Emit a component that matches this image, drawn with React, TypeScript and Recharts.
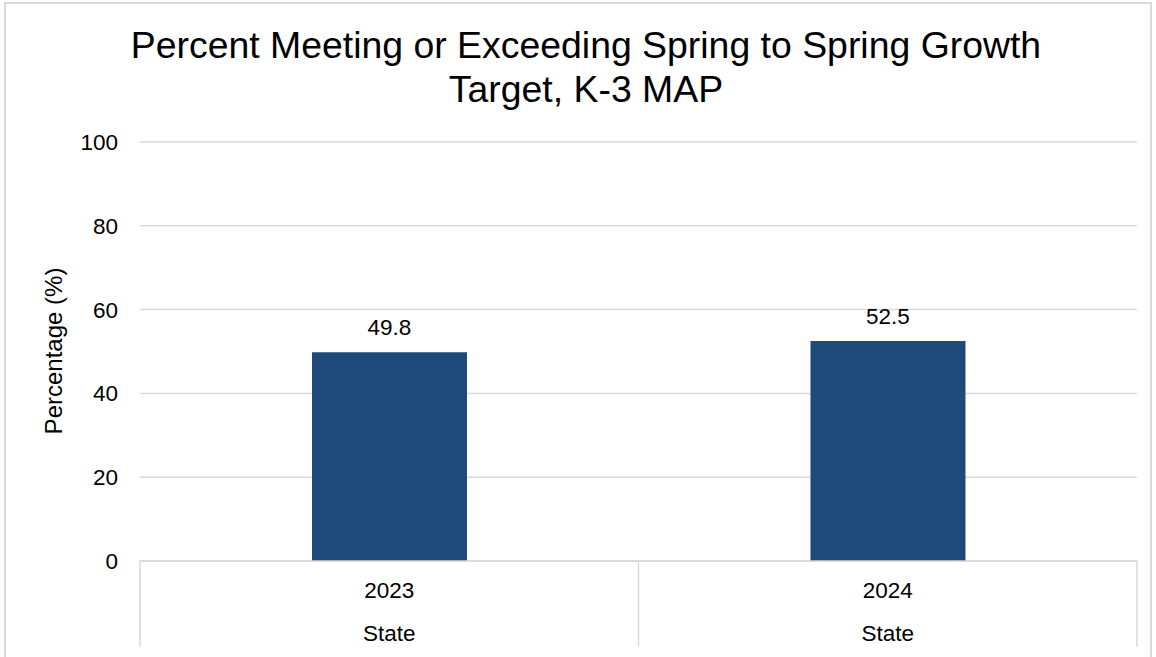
import React from "react";
import { BarChart, Bar, XAxis, YAxis, CartesianGrid, LabelList } from "recharts";

const years = ["2023", "2024"];
const groups = ["State", "State"];
const values = [49.8, 52.5];
const yTicks = [0, 20, 40, 60, 80, 100];
const titleLines = ["Percent Meeting or Exceeding Spring to Spring Growth", "Target, K-3 MAP"];
const yLabel = "Percentage (%)";

const data = years.map((y, i) => ({ year: y, group: groups[i], value: values[i] }));

const W = 1156;
const H = 657;
const X_AXIS_H = 30;
const MARGIN = { top: 142, right: 19, bottom: 96 - X_AXIS_H, left: 0 };
const Y_AXIS_W = 140;
const PLOT_W = W - MARGIN.left - MARGIN.right - Y_AXIS_W;
const BAND = PLOT_W / data.length;
const FONT = "'Liberation Sans', Arial, sans-serif";
const GRID = "#d9d9d9";
const BAR = "#1F4A7C";

const XTick = (props: any) => {
  const { x, y, payload, index } = props;
  const d = data[index] || data.find((e) => e.year === payload.value);
  const left = x - BAND / 2;
  const right = x + BAND / 2;
  return (
    <g>
      <line x1={left} y1={y} x2={left} y2={y + 86} stroke={GRID} strokeWidth={1.5} />
      {index === data.length - 1 && (
        <line x1={right} y1={y} x2={right} y2={y + 86} stroke={GRID} strokeWidth={1.5} />
      )}
      <text x={x} y={y + 37} textAnchor="middle" fontSize={22.5} fontFamily={FONT} fill="#000">
        {payload.value}
      </text>
      <text x={x} y={y + 80} textAnchor="middle" fontSize={22.5} fontFamily={FONT} fill="#000">
        {d ? d.group : ""}
      </text>
    </g>
  );
};

export default function App() {
  return (
    <div style={{ position: "absolute", left: 0, top: 0, width: W, height: H, background: "#fff", overflow: "hidden" }}>
      <BarChart width={W} height={H} data={data} margin={MARGIN} barCategoryGap="34.5%">
        <CartesianGrid vertical={false} stroke={GRID} strokeWidth={1.5} />
        <XAxis
          dataKey="year"
          height={X_AXIS_H}
          tickLine={false}
          axisLine={{ stroke: GRID, strokeWidth: 1.5 }}
          tickSize={0}
          tickMargin={0}
          interval={0}
          tick={<XTick />}
        />
        <YAxis
          width={Y_AXIS_W}
          domain={[0, 100]}
          ticks={yTicks}
          axisLine={false}
          tickLine={false}
          tickSize={0}
          tickMargin={22}
          tick={{ fontSize: 22.5, fontFamily: FONT, fill: "#000" }}
        />
        <Bar dataKey="value" fill={BAR} isAnimationActive={false}>
          <LabelList dataKey="value" position="top" offset={17} style={{ fontSize: 22.5, fontFamily: FONT, fill: "#000" }} formatter={(v: any) => Number(v).toFixed(1)} />
        </Bar>
      </BarChart>
      <svg width={W} height={H} style={{ position: "absolute", left: 0, top: 0, pointerEvents: "none" }}>
        <rect x={5} y={3} width={1146} height={720} fill="none" stroke={GRID} strokeWidth={2} />
        <text x={586} y={58} textAnchor="middle" fontSize={37.4} fontFamily={FONT} fill="#000">
          {titleLines[0]}
        </text>
        <text x={586} y={102} textAnchor="middle" fontSize={37.4} fontFamily={FONT} fill="#000">
          {titleLines[1]}
        </text>
        <text
          x={0}
          y={0}
          transform="translate(62, 351) rotate(-90)"
          textAnchor="middle"
          fontSize={24}
          fontFamily={FONT}
          fill="#000"
        >
          {yLabel}
        </text>
      </svg>
    </div>
  );
}
